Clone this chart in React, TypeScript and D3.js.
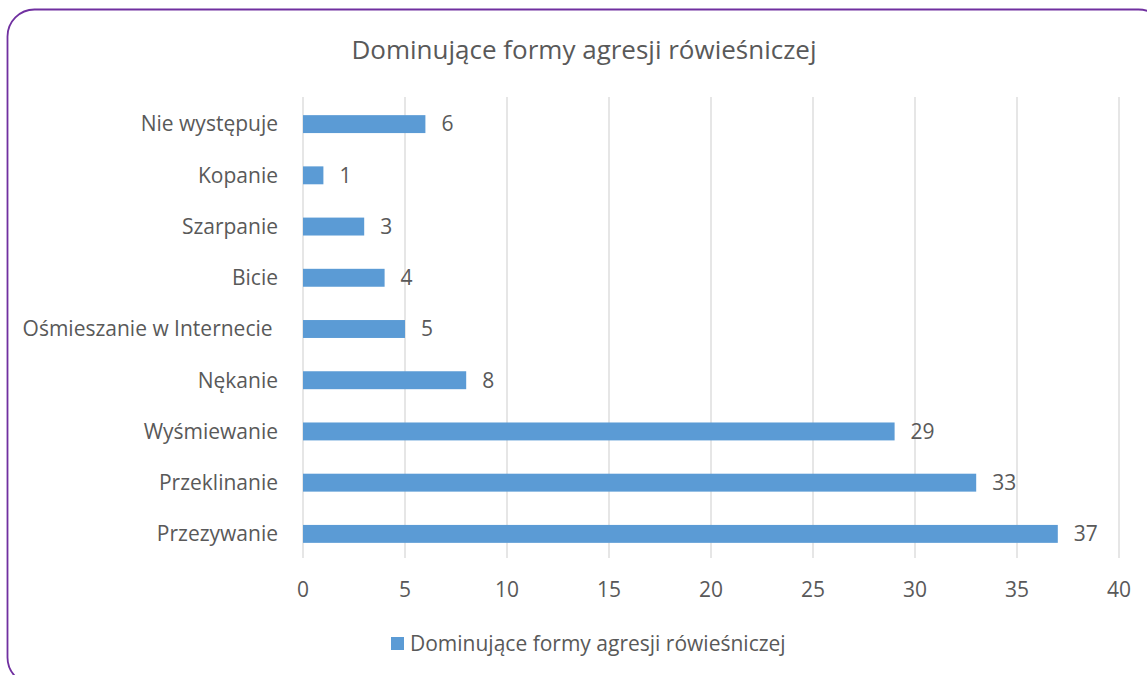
import React from "react";
import * as d3 from "d3";

const categories = [
  "Nie występuje",
  "Kopanie",
  "Szarpanie",
  "Bicie",
  "Ośmieszanie w Internecie ",
  "Nękanie",
  "Wyśmiewanie",
  "Przeklinanie",
  "Przezywanie",
];
const values = [6, 1, 3, 4, 5, 8, 29, 33, 37];
const xTicks = [0, 5, 10, 15, 20, 25, 30, 35, 40];
const title = "Dominujące formy agresji rówieśniczej";
const seriesName = "Dominujące formy agresji rówieśniczej";

const W = 1147;
const H = 675;
const FONT = "'Open Sans', 'Noto Sans', sans-serif";
const TXT = "#595959";
const BAR = "#5B9BD5";

export default function App() {
  const x = d3.scaleLinear().domain([0, 40]).range([303, 1119]);
  const y = d3
    .scaleBand<string>()
    .domain(categories)
    .range([98.5, 559.5])
    .paddingInner(0.65)
    .paddingOuter(0.325);
  const top = 97;
  const bottom = 558;
  return (
    <svg
      width={W}
      height={H}
      style={{ position: "absolute", left: 0, top: 0, display: "block" }}
    >
      <rect x={0} y={0} width={W} height={H} fill="#fff" />
      <rect
        x={7.5}
        y={9.5}
        width={1158}
        height={675}
        rx={27}
        ry={27}
        fill="none"
        stroke="#7030A0"
        strokeWidth={1.8}
      />
      <text
        x={584}
        y={59}
        textAnchor="middle"
        fontFamily={FONT}
        fontSize={26}
        fill={TXT}
      >
        {title}
      </text>
      {xTicks.map((t) => (
        <line
          key={"g" + t}
          x1={x(t)}
          x2={x(t)}
          y1={top}
          y2={bottom}
          stroke="#D9D9D9"
          strokeWidth={1.3}
        />
      ))}
      {xTicks.map((t) => (
        <text
          key={"t" + t}
          x={x(t)}
          y={590}
          dy="0.35em"
          textAnchor="middle"
          fontFamily={FONT}
          fontSize={21}
          fill={TXT}
        >
          {t}
        </text>
      ))}
      {categories.map((c, i) => {
        const yy = y(c)!;
        const bw = y.bandwidth();
        return (
          <g key={c}>
            <rect
              x={x(0)}
              y={yy}
              width={x(values[i]) - x(0)}
              height={bw}
              fill={BAR}
            />
            <text
              x={x(values[i]) + 16}
              y={yy + bw / 2}
              dy="0.35em"
              fontFamily={FONT}
              fontSize={21}
              fill={TXT}
            >
              {values[i]}
            </text>
            <text
              x={278}
              y={yy + bw / 2}
              dy="0.35em"
              textAnchor="end"
              fontFamily={FONT}
              fontSize={21}
              fill={TXT}
              style={{ whiteSpace: "pre" }}
            >
              {c}
            </text>
          </g>
        );
      })}
      <rect x={391} y={637} width={13} height={13} fill={BAR} />
      <text
        x={410}
        y={644}
        dy="0.35em"
        fontFamily={FONT}
        fontSize={21}
        fill={TXT}
      >
        {seriesName}
      </text>
    </svg>
  );
}
